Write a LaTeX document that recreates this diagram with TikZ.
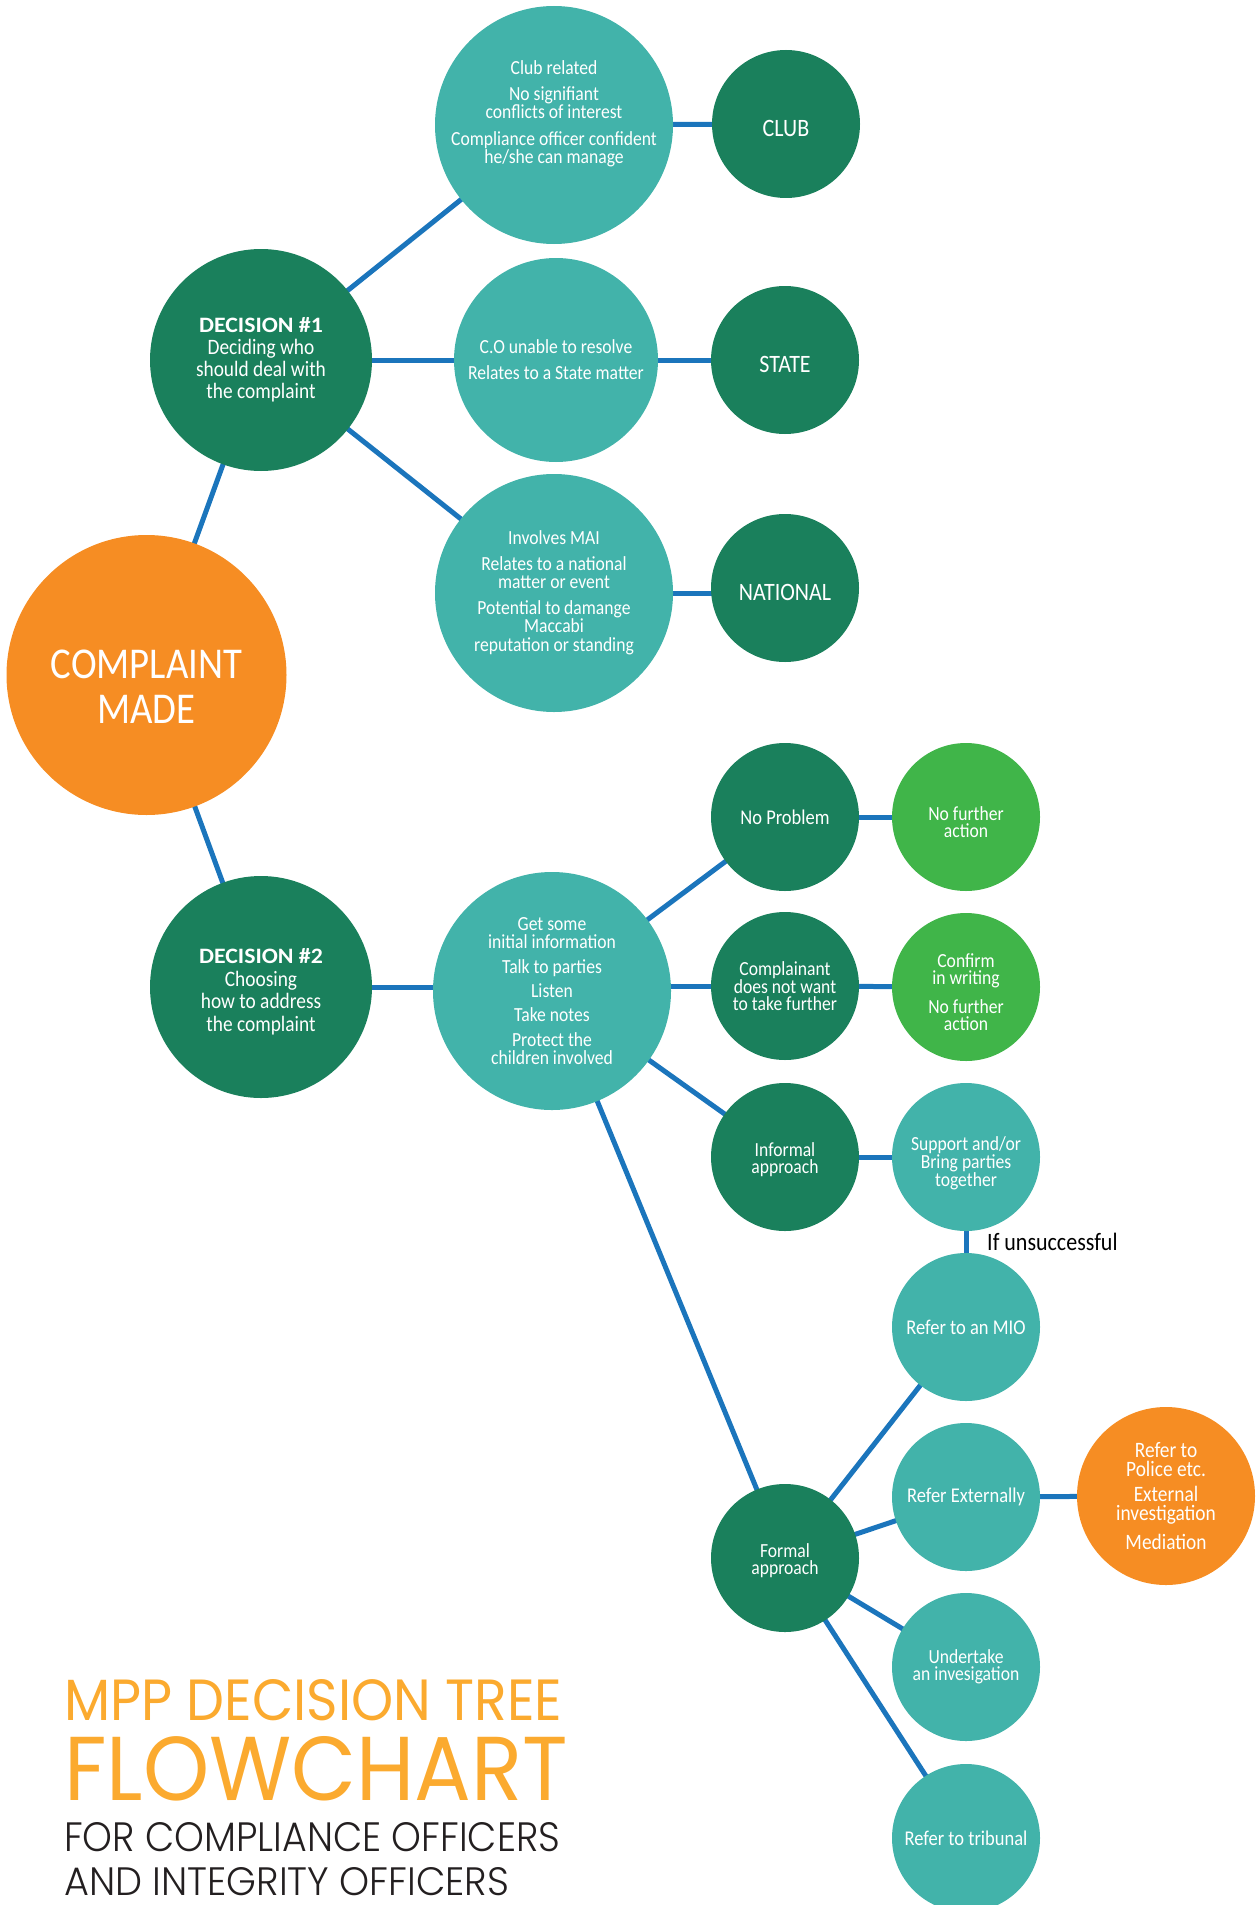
\documentclass[tikz,border=0pt]{standalone}
\usepackage{graphicx}
\usepackage{fontspec}
\setmainfont{Carlito}[FakeStretch=0.88]
\newfontfamily\decfont{Carlito}[FakeStretch=1.08]
\newfontfamily\titlefont{Poppins}
\newfontfamily\titlelight{Poppins Light}
\usetikzlibrary{backgrounds}
\definecolor{cTeal}{HTML}{42B3AA}
\definecolor{cDark}{HTML}{1A805C}
\definecolor{cLime}{HTML}{40B549}
\definecolor{cOrange}{HTML}{F68D23}
\definecolor{cLine}{HTML}{1B75BC}
\definecolor{cTitle}{HTML}{FBAA2F}
\definecolor{cInk}{HTML}{231F20}
\newcommand\setfs[2]{\fontsize{#1}{#2}\selectfont}
\newcommand\lowtxt[1]{\raisebox{-4pt}[\height][0pt]{#1}}
\tikzset{
  bub/.style={circle, inner sep=0pt, text=white, align=center},
  bigteal/.style={bub, fill=cTeal, minimum size=238pt},
  decbub/.style={bub, fill=cDark, minimum size=222pt},
  darkbub/.style={bub, fill=cDark, minimum size=148pt},
  limebub/.style={bub, fill=cLime, minimum size=148pt},
  tealbub/.style={bub, fill=cTeal, minimum size=148pt},
  conn/.style={draw=cLine, line width=5pt},
  wtext/.style={text=white, align=center, inner sep=0pt},
  ttl/.style={anchor=base west, inner sep=0pt},
}
\begin{document}
\begin{tikzpicture}[x=1pt,y=-1pt]
\useasboundingbox (0,0) rectangle (1258,1905);

% root
\node[bub, fill=cOrange, minimum size=280pt] (cm) at (146.5,675) {};
\node[wtext, font=\setfs{44}{45}] (cmtext) at (146.5,686.5) {COMPLAINT\\MADE};

% decision 1 branch
\node[decbub, font=\setfs{22}{22}] (d1) at (261,360)
  {{\decfont\bfseries DECISION \#1}\\Deciding who\\should deal with\\the complaint};
\node[bigteal] (club) at (554,125) {};
\node[wtext, font=\setfs{20}{18}] (clubtext) at (554,114)
  {Club related\\[8pt]No signifiant\\conflicts of interest\\[9pt]Compliance officer confident\\he/she can manage};
\node[bub, fill=cTeal, minimum size=204pt, font=\setfs{20}{18}] (co) at (556,360)
  {C.O unable to resolve\\[8pt]Relates to a State matter};
\node[bigteal, font=\setfs{20}{18.5}] (mai) at (554,593)
  {Involves MAI\\[7pt]Relates to a national\\matter or event\\[7pt]Potential to damange\\Maccabi\\reputation or standing};
\node[darkbub, font=\setfs{25}{25}] (clubf) at (786,124) {\lowtxt{CLUB}};
\node[darkbub, font=\setfs{25}{25}] (state) at (785,360) {\lowtxt{STATE}};
\node[darkbub, font=\setfs{25}{25}] (nat) at (785,588) {\lowtxt{NATIONAL}};

% decision 2 branch
\node[decbub] (d2) at (261,987) {};
\node[wtext, font=\setfs{22}{22.5}] (d2text) at (261,992)
  {{\decfont\bfseries DECISION \#2}\\Choosing\\how to address\\the complaint};
\node[bigteal, font=\setfs{20}{18}] (info) at (552,991)
  {Get some\\initial information\\[7pt]Talk to parties\\[6pt]Listen\\[6pt]Take notes\\[7pt]Protect the\\children involved};
\node[darkbub, font=\setfs{21}{17}] (np) at (785,817) {No Problem};
\node[limebub] (nfa) at (966,817) {};
\node[wtext, font=\setfs{20}{17}] (nfatext) at (966,822) {No further\\action};
\node[darkbub, font=\setfs{20}{16.5}] (cnw) at (785,986) {Complainant\\does not want\\to take further};
\node[limebub] (cw) at (966,987) {};
\node[wtext, font=\setfs{20}{17}] (cwtext) at (966,992) {Confirm\\in writing\\[10pt]No further\\action};
\node[darkbub] (inf) at (785,1157) {};
\node[wtext, font=\setfs{20}{17}] (inftext) at (785,1159.5) {Informal\\approach};
\node[tealbub] (sup) at (966,1157) {};
\node[wtext, font=\setfs{20}{16.5}] (suptext) at (966,1163) {Support and/or\\Bring parties\\together};
\node[tealbub, font=\setfs{21}{17}] (mio) at (966,1327) {Refer to an MIO};
\node[tealbub, font=\setfs{21}{17}] (ext) at (966,1497) {Refer Externally};
\node[bub, fill=cOrange, minimum size=178pt, font=\setfs{22}{19}] (pol) at (1166,1496)
  {Refer to\\Police etc.\\[6pt]External\\investigation\\[8pt]Mediation};
\node[darkbub] (formal) at (785,1558) {};
\node[wtext, font=\setfs{20}{17}] (formaltext) at (785,1560.5) {Formal\\approach};
\node[tealbub, font=\setfs{20}{17}] (und) at (966,1667) {Undertake\\an invesigation};
\node[tealbub, font=\setfs{21}{17}] (trib) at (966,1838) {Refer to tribunal};

\node[anchor=west, inner sep=0pt, text=black, font=\setfs{25}{25}] (unsucc) at (987,1242) {If unsuccessful};

% connectors
\begin{scope}[on background layer]
\draw[conn] (cm.center) -- (d1.center);
\draw[conn] (cm.center) -- (d2.center);
\draw[conn] (d1.center) -- (club.center);
\draw[conn] (d1.center) -- (co.center);
\draw[conn] (d1.center) -- (mai.center);
\draw[conn] (club.center) -- (clubf.center);
\draw[conn] (co.center) -- (state.center);
\draw[conn] (mai.center) -- (mai.center -| nat.center);
\draw[conn] (d2.center) -- (d2.center -| info.center);
\draw[conn] (info.center) -- (np.center);
\draw[conn] (cnw.center -| info.center) -- (cnw.center);
\draw[conn] (info.center) -- (inf.center);
\draw[conn] (info.center) -- (formal.center);
\draw[conn] (np.center) -- (nfa.center);
\draw[conn] (cnw.center) -- (cw.center);
\draw[conn] (inf.center) -- (sup.center);
\draw[conn] (sup.center) -- (mio.center);
\draw[conn] (formal.center) -- (mio.center);
\draw[conn] (formal.center) -- (ext.center);
\draw[conn] (ext.center) -- (pol.center);
\draw[conn] (formal.center) -- (und.center);
\draw[conn] (formal.center) -- (trib.center);
\end{scope}

% title
\node[ttl, text=cTitle] (t1) at (64,1720) {\resizebox{498pt}{41pt}{\titlefont MPP DECISION TREE}};
\node[ttl, text=cTitle] (t2) at (64,1800) {\resizebox{504pt}{64pt}{\titlefont FLOWCHART}};
\node[ttl, text=cInk] (t3) at (64,1851) {\resizebox{496pt}{29pt}{\titlelight FOR COMPLIANCE OFFICERS}};
\node[ttl, text=cInk] (t4) at (64,1895) {\resizebox{445pt}{28pt}{\titlelight AND INTEGRITY OFFICERS}};
\end{tikzpicture}
\end{document}
